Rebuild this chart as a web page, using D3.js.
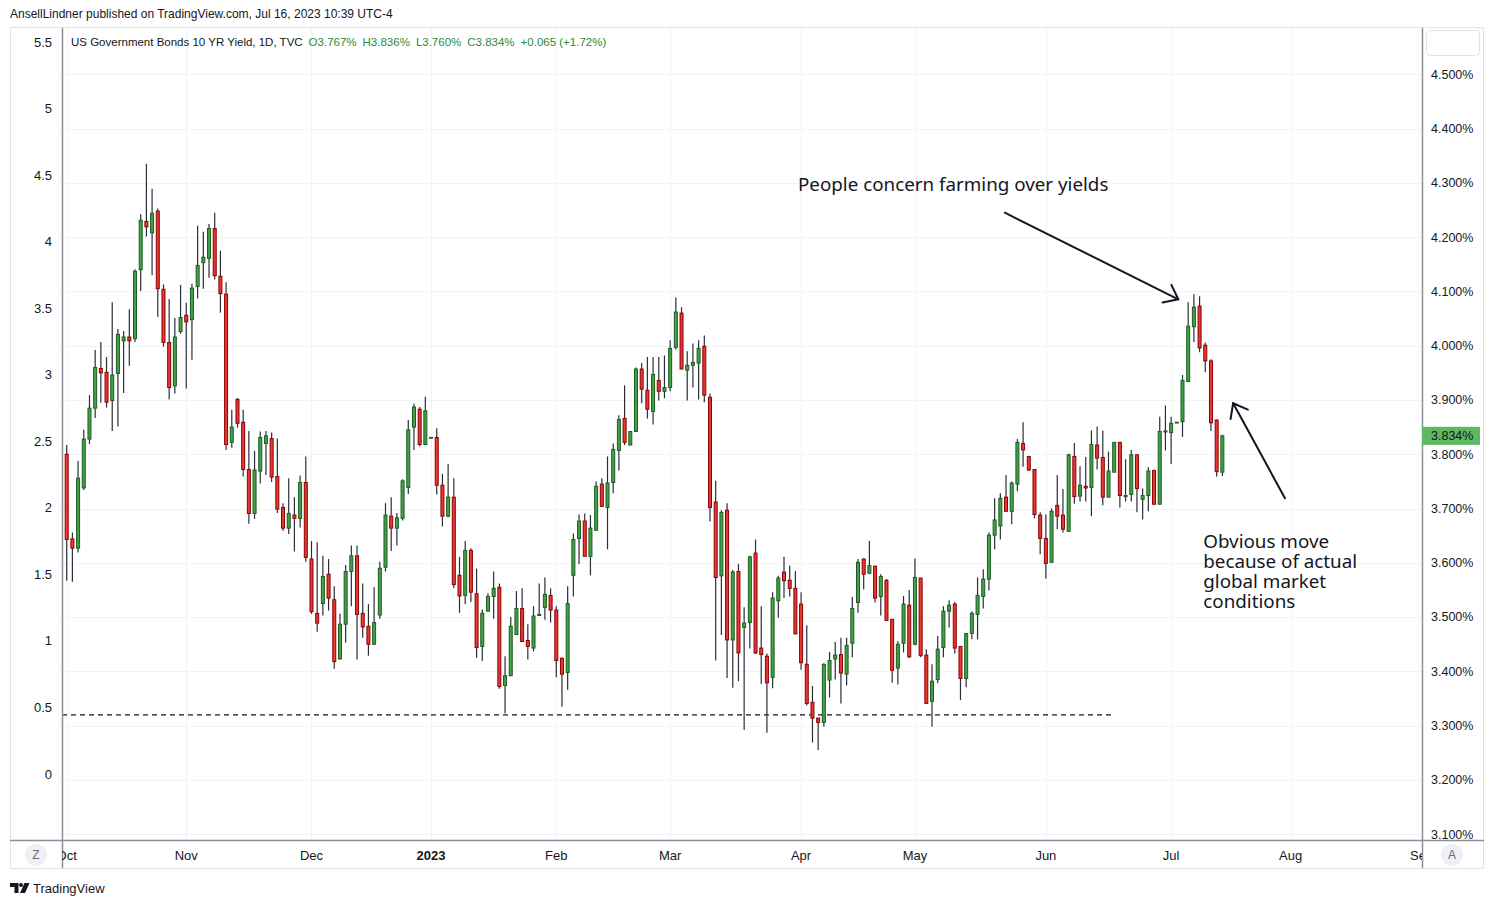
<!DOCTYPE html>
<html><head><meta charset="utf-8">
<script src="https://cdn.jsdelivr.net/npm/d3@7"></script>
<style>
html,body{margin:0;padding:0;background:#fff;}
svg{display:block;font-family:"Liberation Sans",Arial,sans-serif;}
</style></head><body>
<svg id="chart" width="1494" height="907"></svg>
<script>
// ---------------- DATA ----------------
const opens = [3.800,3.644,3.627,3.738,3.828,3.885,3.958,3.951,3.899,3.949,
4.009,4.016,4.013,4.140,4.229,4.208,4.248,4.104,4.006,3.926,
4.026,4.056,4.048,4.109,4.153,4.161,4.216,4.128,4.095,3.822,
3.901,3.859,3.772,3.691,3.769,3.820,3.829,3.759,3.702,3.664,
3.688,3.682,3.748,3.607,3.507,3.525,3.579,3.532,3.423,3.487,
3.584,3.613,3.507,3.483,3.450,3.504,3.592,3.686,3.664,3.682,
3.739,3.850,3.883,3.818,3.831,3.831,3.743,3.686,3.721,3.577,
3.540,3.623,3.543,3.446,3.511,3.538,3.555,3.374,3.392,3.468,
3.516,3.457,3.443,3.503,3.518,3.540,3.513,3.424,3.398,3.577,
3.645,3.677,3.612,3.660,3.745,3.702,3.748,3.807,3.866,3.817,
3.842,3.957,3.918,3.879,3.936,3.916,3.923,3.997,4.060,3.955,
3.964,3.968,3.999,3.905,3.712,3.576,3.697,3.458,3.584,3.481,
3.490,3.618,3.443,3.428,3.389,3.530,3.583,3.568,3.553,3.524,
3.413,3.343,3.314,3.306,3.384,3.423,3.431,3.395,3.452,3.527,
3.607,3.581,3.594,3.538,3.568,3.496,3.406,3.452,3.522,3.450,
3.572,3.430,3.345,3.385,3.444,3.511,3.524,3.446,3.387,3.470,
3.505,3.538,3.570,3.651,3.668,3.721,3.695,3.745,3.820,3.796,
3.772,3.688,3.645,3.601,3.706,3.688,3.658,3.796,3.723,3.741,
3.739,3.817,3.794,3.721,3.767,3.822,3.722,3.726,3.799,3.717,
3.724,3.770,3.708,3.841,3.840,3.859,3.860,3.934,4.035,4.073,
4.001,3.972,3.863,3.767];
const highs = [3.817,3.656,3.788,3.845,3.909,3.992,4.007,3.979,4.080,4.031,
4.027,4.067,4.141,4.242,4.335,4.289,4.253,4.113,4.086,4.051,
4.112,4.079,4.114,4.221,4.210,4.224,4.245,4.175,4.117,3.882,
3.904,3.882,3.843,3.806,3.842,3.843,3.840,3.829,3.710,3.756,
3.721,3.761,3.796,3.640,3.638,3.613,3.607,3.557,3.506,3.596,
3.632,3.632,3.562,3.524,3.555,3.602,3.710,3.721,3.692,3.754,
3.863,3.893,3.887,3.906,3.831,3.848,3.764,3.782,3.756,3.611,
3.640,3.627,3.589,3.514,3.544,3.584,3.562,3.428,3.500,3.548,
3.553,3.487,3.520,3.562,3.573,3.553,3.520,3.426,3.557,3.654,
3.689,3.691,3.688,3.750,3.756,3.796,3.820,3.872,3.927,3.842,
3.960,3.968,3.979,3.979,3.979,3.982,4.010,4.089,4.071,3.990,
4.004,4.010,4.019,3.912,3.751,3.697,3.710,3.587,3.598,3.518,
3.613,3.643,3.520,3.433,3.546,3.576,3.611,3.595,3.585,3.546,
3.485,3.373,3.314,3.415,3.436,3.454,3.462,3.462,3.537,3.607,
3.608,3.640,3.594,3.579,3.570,3.496,3.456,3.539,3.550,3.608,
3.572,3.441,3.413,3.465,3.520,3.531,3.528,3.446,3.470,3.511,
3.573,3.588,3.656,3.719,3.728,3.762,3.750,3.828,3.859,3.796,
3.772,3.693,3.689,3.700,3.762,3.736,3.801,3.821,3.778,3.795,
3.844,3.851,3.844,3.805,3.822,3.822,3.791,3.808,3.799,3.737,
3.776,3.772,3.869,3.890,3.869,3.859,3.946,4.080,4.095,4.091,
4.006,3.975,3.864,3.836];
const lows = [3.567,3.565,3.619,3.734,3.819,3.867,3.895,3.886,3.843,3.851,
3.913,3.963,4.007,4.101,4.201,4.130,4.053,3.998,3.901,3.912,
4.022,3.921,3.974,4.087,4.105,4.125,4.122,4.061,3.808,3.812,
3.849,3.759,3.672,3.681,3.746,3.762,3.749,3.692,3.659,3.653,
3.621,3.665,3.602,3.506,3.473,3.503,3.512,3.405,3.422,3.453,
3.520,3.422,3.462,3.429,3.449,3.497,3.584,3.622,3.632,3.678,
3.727,3.808,3.815,3.818,3.831,3.726,3.667,3.684,3.553,3.508,
3.524,3.528,3.425,3.419,3.511,3.497,3.368,3.323,3.392,3.467,
3.455,3.422,3.437,3.503,3.495,3.490,3.389,3.335,3.366,3.538,
3.598,3.612,3.577,3.660,3.704,3.625,3.728,3.770,3.817,3.817,
3.842,3.894,3.866,3.855,3.899,3.903,3.916,3.993,3.957,3.899,
3.923,3.901,3.896,3.676,3.420,3.467,3.388,3.370,3.382,3.292,
3.442,3.432,3.377,3.287,3.369,3.499,3.535,3.538,3.469,3.403,
3.337,3.269,3.255,3.298,3.352,3.385,3.341,3.374,3.426,3.508,
3.551,3.579,3.527,3.503,3.494,3.379,3.376,3.435,3.424,3.448,
3.426,3.341,3.298,3.378,3.426,3.481,3.433,3.347,3.371,3.459,
3.459,3.516,3.549,3.625,3.643,3.695,3.671,3.732,3.777,3.769,
3.682,3.616,3.571,3.601,3.662,3.656,3.658,3.709,3.713,3.713,
3.686,3.772,3.706,3.721,3.767,3.702,3.713,3.713,3.693,3.680,
3.695,3.708,3.708,3.807,3.782,3.859,3.832,3.934,4.007,3.988,
3.951,3.843,3.759,3.760];
const closes = [3.643,3.627,3.756,3.828,3.885,3.960,3.950,3.896,3.946,4.021,
4.016,4.009,4.137,4.231,4.219,4.244,4.105,4.006,3.923,4.016,
4.052,4.044,4.106,4.148,4.163,4.216,4.129,4.096,3.818,3.850,
3.857,3.772,3.691,3.771,3.831,3.834,3.758,3.699,3.664,3.691,
3.682,3.748,3.610,3.510,3.489,3.575,3.535,3.418,3.487,3.584,
3.613,3.505,3.482,3.450,3.490,3.590,3.688,3.664,3.683,3.751,
3.845,3.887,3.818,3.880,3.831,3.743,3.686,3.721,3.560,3.539,
3.623,3.546,3.444,3.507,3.538,3.553,3.372,3.392,3.483,3.516,
3.455,3.446,3.502,3.505,3.542,3.513,3.420,3.395,3.525,3.643,
3.677,3.612,3.664,3.741,3.704,3.747,3.809,3.864,3.822,3.842,
3.957,3.920,3.883,3.947,3.916,3.923,3.995,4.062,3.957,3.964,
3.969,3.995,3.909,3.702,3.573,3.693,3.458,3.583,3.434,3.489,
3.611,3.434,3.431,3.379,3.535,3.572,3.567,3.553,3.469,3.416,
3.341,3.314,3.306,3.413,3.420,3.430,3.397,3.448,3.516,3.601,
3.579,3.595,3.535,3.575,3.494,3.402,3.450,3.524,3.427,3.573,
3.429,3.341,3.382,3.441,3.511,3.522,3.443,3.387,3.470,3.507,
3.540,3.570,3.651,3.679,3.719,3.695,3.747,3.822,3.808,3.771,
3.689,3.645,3.599,3.695,3.686,3.662,3.799,3.722,3.743,3.738,
3.818,3.793,3.721,3.769,3.822,3.724,3.724,3.799,3.737,3.724,
3.769,3.708,3.842,3.843,3.857,3.859,3.936,4.036,4.071,3.996,
3.972,3.858,3.768,3.834];

const startDate = "2022-10-03";
const axisEndDate = "2023-09-29";
const skippedDates = ["2022-12-26"];
const visibleIndexRange = [-0.825, 238.07];

const rightTicks = [3.1,3.2,3.3,3.4,3.5,3.6,3.7,3.8,3.9,4.0,4.1,4.2,4.3,4.4,4.5];
const leftTicks = [0,0.5,1,1.5,2,2.5,3,3.5,4,4.5,5,5.5];
const priceDomain = [3.0894, 4.5853];
const leftDomain = [0, 5.5];

const lastPrice = 3.834;
const supportLevel = 3.32;
const supportEndIndex = 183.6;

const headerText = "AnsellLindner published on TradingView.com, Jul 16, 2023 10:39 UTC-4";
const legendTitle = "US Government Bonds 10 YR Yield, 1D, TVC";
const legendValues = ["O3.767%", "H3.836%", "L3.760%", "C3.834%", "+0.065 (+1.72%)"];

const note1 = {text:["People concern farming over yields"], index:128.46, value:4.285};
const note2 = {text:["Obvious move","because of actual","global market","conditions"], index:199.65, value:3.6273};
const arrow1 = {from:[164.8, 4.245], to:[195.26, 4.0855]};
const arrow2 = {from:[214.0, 3.719], to:[204.9, 3.894]};

// ---------------- LAYOUT ----------------
const W = 1494, H = 907;
const plot = {left:62, right:1422, top:28, bottom:840};
const svg = d3.select("#chart");

const parse = d3.timeParse("%Y-%m-%d");
const fmt = d3.timeFormat("%Y-%m-%d");
const allDates = d3.timeDay.range(parse(startDate), d3.timeDay.offset(parse(axisEndDate), 1))
  .filter(d => d.getDay() !== 0 && d.getDay() !== 6 && !skippedDates.includes(fmt(d)));

const candles = opens.map((o, i) => ({i, date: allDates[i], o, h: highs[i], l: lows[i], c: closes[i]}));

const x = d3.scaleLinear().domain(visibleIndexRange).range([plot.left, plot.right]);
const y = d3.scaleLinear().domain(priceDomain).range([plot.bottom, plot.top]);
const yLeft = d3.scaleLinear().domain(leftDomain).range([774, 42]);

const monthTicks = [];
allDates.forEach((d, i) => {
  if (i === 0 || d.getMonth() !== allDates[i - 1].getMonth()) {
    monthTicks.push({i, label: d.getMonth() === 0 ? d3.timeFormat("%Y")(d) : d3.timeFormat("%b")(d), year: d.getMonth() === 0});
  }
});

// background
svg.append("rect").attr("width", W).attr("height", H).attr("fill", "#fff");

// header
svg.append("text").attr("x", 10).attr("y", 18).attr("font-size", 12).attr("fill", "#131722").text(headerText);

// outer frame
svg.append("rect").attr("x", 10.5).attr("y", 27.5).attr("width", 1473).attr("height", 841)
  .attr("fill", "none").attr("stroke", "#e0e3eb");

// clip
svg.append("clipPath").attr("id", "plotclip").append("rect")
  .attr("x", plot.left).attr("y", plot.top).attr("width", plot.right - plot.left).attr("height", plot.bottom - plot.top);

// grid
const grid = svg.append("g").attr("clip-path", "url(#plotclip)");
grid.selectAll("line.h").data(rightTicks).join("line")
  .attr("x1", plot.left).attr("x2", plot.right)
  .attr("y1", d => Math.round(y(d)) + 0.5).attr("y2", d => Math.round(y(d)) + 0.5)
  .attr("stroke", "#f0f3fa").attr("stroke-width", 1);
grid.selectAll("line.v").data(monthTicks).join("line")
  .attr("x1", d => Math.round(x(d.i)) + 0.5).attr("x2", d => Math.round(x(d.i)) + 0.5)
  .attr("y1", plot.top).attr("y2", plot.bottom)
  .attr("stroke", "#f0f3fa").attr("stroke-width", 1);

// support dashed line
grid.append("line")
  .attr("x1", plot.left).attr("x2", x(supportEndIndex))
  .attr("y1", y(supportLevel)).attr("y2", y(supportLevel))
  .attr("stroke", "#131722").attr("stroke-width", 1.2).attr("stroke-dasharray", "5,4");

// candles
const cg = svg.append("g").attr("clip-path", "url(#plotclip)");
const bw = 3;
cg.selectAll("line.wick").data(candles).join("line")
  .attr("x1", d => x(d.i)).attr("x2", d => x(d.i))
  .attr("y1", d => y(d.h)).attr("y2", d => y(d.l))
  .attr("stroke", "#2a2e39").attr("stroke-width", 1.2);
cg.selectAll("rect.body").data(candles).join("rect")
  .attr("x", d => x(d.i) - bw / 2)
  .attr("width", bw)
  .attr("y", d => y(Math.max(d.o, d.c)))
  .attr("height", d => Math.max(0.8, Math.abs(y(d.o) - y(d.c))))
  .attr("fill", d => d.c >= d.o ? "#43a047" : "#e53935")
  .attr("stroke", d => d.c >= d.o ? "#1b5e20" : "#8e0000")
  .attr("stroke-width", 1);

// axes lines
svg.append("line").attr("x1", plot.left + 0.5).attr("x2", plot.left + 0.5).attr("y1", 28).attr("y2", 868)
  .attr("stroke", "#8c8f99").attr("stroke-width", 1.5);
svg.append("line").attr("x1", plot.right + 0.5).attr("x2", plot.right + 0.5).attr("y1", 28).attr("y2", 868)
  .attr("stroke", "#8c8f99").attr("stroke-width", 1.5);
svg.append("line").attr("x1", 10).attr("x2", 1484).attr("y1", plot.bottom + 0.5).attr("y2", plot.bottom + 0.5)
  .attr("stroke", "#8c8f99").attr("stroke-width", 1.5);

// right axis labels
svg.append("g").selectAll("text").data(rightTicks).join("text")
  .attr("x", 1431).attr("y", d => y(d)).attr("dy", "0.35em")
  .attr("font-size", 12.5).attr("fill", "#131722")
  .text(d => d3.format(".3f")(d) + "%");

// top-right box
svg.append("rect").attr("x", 1426.5).attr("y", 30.5).attr("width", 53).attr("height", 25).attr("rx", 4)
  .attr("fill", "#fff").attr("stroke", "#e0e3eb");

// last price label
svg.append("rect").attr("x", 1422).attr("y", y(lastPrice) - 9).attr("width", 58).attr("height", 18)
  .attr("fill", "#5fb760");
svg.append("text").attr("x", 1431).attr("y", y(lastPrice)).attr("dy", "0.35em")
  .attr("font-size", 12.5).attr("fill", "#131722").text(d3.format(".3f")(lastPrice) + "%");

// left axis labels
svg.append("g").selectAll("text").data(leftTicks).join("text")
  .attr("x", 52).attr("y", d => yLeft(d)).attr("dy", "0.35em").attr("text-anchor", "end")
  .attr("font-size", 13).attr("fill", "#131722")
  .text(d => d3.format("")(d));

// time axis labels (clipped to plot width)
svg.append("clipPath").attr("id", "timeclip").append("rect")
  .attr("x", plot.left).attr("y", plot.bottom).attr("width", plot.right - plot.left).attr("height", 28);
svg.append("g").attr("clip-path", "url(#timeclip)").selectAll("text").data(monthTicks.filter(d => x(d.i) <= plot.right + 20)).join("text")
  .attr("x", d => x(d.i)).attr("y", 855).attr("dy", "0.35em").attr("text-anchor", "middle")
  .attr("font-size", 13).attr("font-weight", d => d.year ? "bold" : "normal").attr("fill", "#131722")
  .text(d => d.label);

// Z / A buttons
[[36, "Z"], [1452, "A"]].forEach(([cx, t]) => {
  svg.append("circle").attr("cx", cx).attr("cy", 855).attr("r", 11).attr("fill", "#eef0f5");
  svg.append("text").attr("x", cx).attr("y", 855).attr("dy", "0.35em").attr("text-anchor", "middle")
    .attr("font-size", 12).attr("fill", "#6a6d78").text(t);
});

// legend
const leg = svg.append("text").attr("x", 71).attr("y", 46).attr("font-size", 11.5).attr("fill", "#131722");
leg.append("tspan").text(legendTitle);
legendValues.forEach((v, k) => {
  leg.append("tspan").attr("dx", 6).attr("fill", "#2b8a3e").text(v);
});

// annotations
const annFont = "'Noto Sans', sans-serif";
function drawNote(n) {
  const t = svg.append("text").attr("x", x(n.index)).attr("y", y(n.value))
    .attr("font-family", annFont).attr("font-size", 18.8).attr("fill", "#131722");
  n.text.forEach((line, k) => {
    t.append("tspan").attr("x", x(n.index)).attr("dy", k === 0 ? 0 : 20).text(line);
  });
}
drawNote(note1);
drawNote(note2);

function drawArrow(a) {
  const x1 = x(a.from[0]), y1 = y(a.from[1]), x2 = x(a.to[0]), y2 = y(a.to[1]);
  const ang = Math.atan2(y1 - y2, x1 - x2);
  const L = 16, spread = 38 * Math.PI / 180;
  const g = svg.append("g").attr("stroke", "#131722").attr("stroke-width", 2).attr("fill", "none")
    .attr("stroke-linecap", "round");
  g.append("line").attr("x1", x1).attr("y1", y1).attr("x2", x2).attr("y2", y2);
  [ang - spread, ang + spread].forEach(a2 => {
    g.append("line").attr("x1", x2).attr("y1", y2)
      .attr("x2", x2 + L * Math.cos(a2)).attr("y2", y2 + L * Math.sin(a2));
  });
}
drawArrow(arrow1);
drawArrow(arrow2);

// TradingView logo
const logo = svg.append("g").attr("fill", "#131722");
logo.append("path").attr("d", "M10 883 h8.5 v10 h-4 v-6 h-4.5 z");
logo.append("circle").attr("cx", 21).attr("cy", 885).attr("r", 2);
logo.append("path").attr("d", "M24.5 883 h5 l-4.5 10 h-5 z");
svg.append("text").attr("x", 33).attr("y", 893).attr("font-size", 13).attr("fill", "#131722").text("TradingView");
</script>
</body></html>
